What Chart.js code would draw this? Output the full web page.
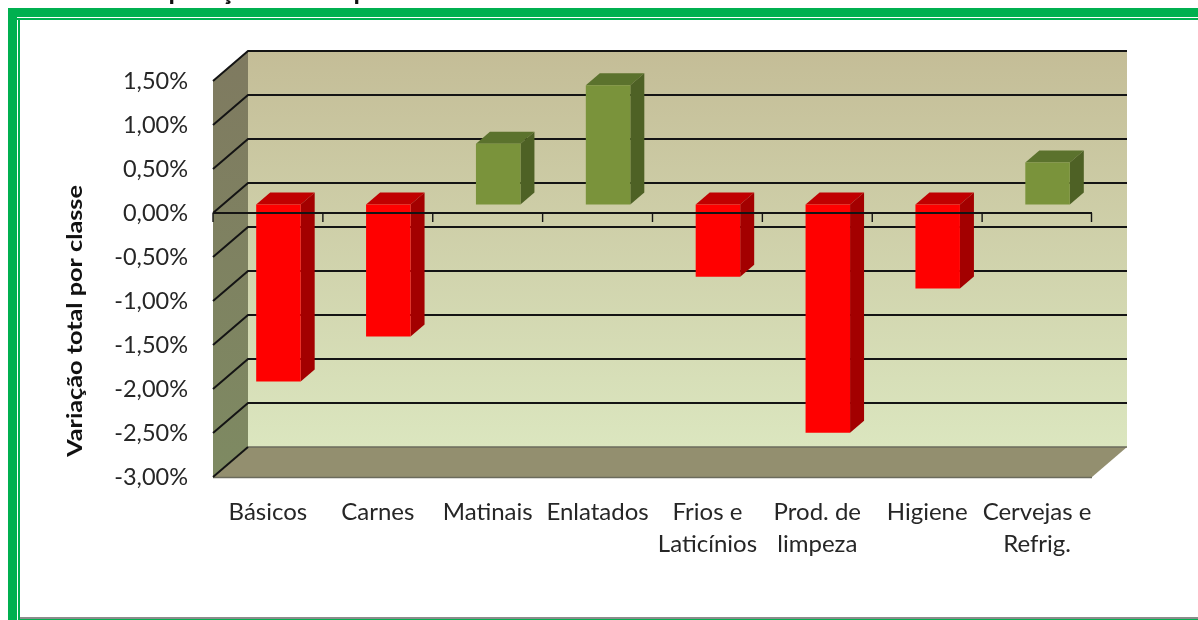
<!DOCTYPE html>
<html lang="pt-BR">
<head>
<meta charset="utf-8">
<style>html,body{margin:0;padding:0;background:#fff}canvas{display:block}</style>
<script src="https://cdn.jsdelivr.net/npm/chart.js@4/dist/chart.umd.min.js"></script>
</head>
<body>
<canvas id="c" width="1198" height="620"></canvas>
<script>
const categories = ["Básicos","Carnes","Matinais","Enlatados",["Frios e","Laticínios"],["Prod. de","limpeza"],"Higiene",["Cervejas e","Refrig."]];
const variacao = [-2.01,-1.50,0.69,1.355,-0.82,-2.595,-0.955,0.477];
const yAxisTitle = "Variação total por classe";
const clippedTitleLetters = [["p",176],["ç",227],["p",361]];

const FONT = "Lato, Carlito, sans-serif";
const INK = "#262626";
const WALL = {dx:35, dy:-30};
const BAR_PLANE = {dx:10.5, dy:-8.5};
const BAR_DEPTH = {dx:14, dy:-12};
const poly = (ctx, pts, fill) => {
  ctx.beginPath();
  pts.forEach((p,i)=> i ? ctx.lineTo(p[0],p[1]) : ctx.moveTo(p[0],p[1]));
  ctx.closePath(); ctx.fillStyle = fill; ctx.fill();
};

const frame = {
  id:"frame",
  beforeDraw(chart){
    const {ctx,width:W,height:H} = chart;
    ctx.save();
    ctx.fillStyle="#fff"; ctx.fillRect(0,0,W,H);
    ctx.fillStyle="#00B050";
    ctx.fillRect(8,8,W-8,9); ctx.fillRect(8,18,W-8,2);
    ctx.fillRect(8,8,9,H-8); ctx.fillRect(18,18,2,H-18);
    ctx.fillStyle="#8c8c8c"; ctx.fillRect(20,617,W-20,2);
    ctx.fillStyle="#00B050"; ctx.fillRect(20,619,W-20,1);
    ctx.fillStyle="#111"; ctx.font="bold 26px "+FONT; ctx.textAlign="center"; ctx.textBaseline="alphabetic";
    clippedTitleLetters.forEach(([t,x])=>ctx.fillText(t,x,0));
    ctx.restore();
  }
};

const stage = {
  id:"stage",
  beforeDatasetsDraw(chart){
    const {ctx,chartArea:a,scales:{y}} = chart;
    const {left:L,right:R,top:T,bottom:B} = a;
    const d=WALL, BL=L+d.dx, BR=R+d.dx, BT=T+d.dy, BB=B+d.dy;
    ctx.save();
    let g=ctx.createLinearGradient(0,BT,0,BB);
    g.addColorStop(0,"#C4BD97"); g.addColorStop(1,"#DBE6BF");
    ctx.fillStyle=g; ctx.fillRect(BL,BT,BR-BL,BB-BT);
    g=ctx.createLinearGradient(0,BT,0,B);
    g.addColorStop(0,"#7F7A60"); g.addColorStop(1,"#7E8A62");
    poly(ctx,[[L,T],[BL,BT],[BL,BB],[L,B]],g);
    poly(ctx,[[L,B],[BL,BB],[BR,BB],[R,B]],"#938F6F");
    ctx.strokeStyle="#6b6b5c"; ctx.lineWidth=1.5;
    ctx.beginPath(); ctx.moveTo(BL,BB); ctx.lineTo(BR,BB); ctx.stroke();
    ctx.beginPath(); ctx.moveTo(L,B+.5); ctx.lineTo(R,B+.5); ctx.stroke();
    ctx.strokeStyle="#141414"; ctx.lineWidth=2;
    y.ticks.forEach(t=>{
      const py=Math.round(y.getPixelForValue(t.value));
      ctx.beginPath(); ctx.moveTo(L,py); ctx.lineTo(BL,py+d.dy);
      if(t.value>y.min) ctx.lineTo(BR,py+d.dy);
      ctx.stroke();
    });
    ctx.restore();
    ctx.save();
    const meta=chart.getDatasetMeta(0);
    ctx.translate(BAR_PLANE.dx,BAR_PLANE.dy);
    const D=BAR_DEPTH;
    meta.data.forEach((el,i)=>{
      const top=Math.min(el.y,el.base), bot=Math.max(el.y,el.base);
      const l=el.x-el.width/2, r=el.x+el.width/2;
      const pos=variacao[i]>=0;
      poly(ctx,[[l,top],[l+D.dx,top+D.dy],[r+D.dx,top+D.dy],[r,top]],pos?"#5B722D":"#C00000");
      poly(ctx,[[r,top],[r+D.dx,top+D.dy],[r+D.dx,bot+D.dy],[r,bot]],pos?"#4E6125":"#A30000");
    });
    ctx.restore();
    ctx.save();
    ctx.translate(BAR_PLANE.dx,BAR_PLANE.dy);
  },
  afterDatasetsDraw(chart){
    const {ctx,chartArea:a,scales:{x,y}} = chart;
    ctx.restore();
    ctx.save();
    const y0=Math.round(y.getPixelForValue(0));
    ctx.strokeStyle="#141414"; ctx.lineWidth=2;
    ctx.beginPath(); ctx.moveTo(a.left,y0); ctx.lineTo(a.right,y0); ctx.stroke();
    const half=(x.getPixelForTick(1)-x.getPixelForTick(0))/2;
    ctx.lineWidth=1.4;
    x.ticks.forEach((t,i)=>{
      const px=x.getPixelForTick(i)-half;
      ctx.beginPath(); ctx.moveTo(px,y0); ctx.lineTo(px,y0+9); ctx.stroke();
    });
    ctx.beginPath(); ctx.moveTo(a.right-.5,y0); ctx.lineTo(a.right-.5,y0+9); ctx.stroke();
    ctx.fillStyle="#111"; ctx.font="bold 21px "+FONT;
    ctx.textAlign="center"; ctx.textBaseline="middle";
    ctx.translate(75,321); ctx.rotate(-Math.PI/2); ctx.scale(1.2,1);
    ctx.fillText(yAxisTitle,0,0);
    ctx.restore();
  }
};

new Chart(document.getElementById("c"),{
  type:"bar",
  data:{labels:categories,datasets:[{
    label:yAxisTitle,
    data:variacao,
    backgroundColor:variacao.map(v=>v>=0?"#7A933B":"#FF0000"),
    categoryPercentage:1,
    barPercentage:0.405,
    borderWidth:0
  }]},
  plugins:[frame,stage],
  options:{
    responsive:false,
    animation:false,
    layout:{padding:{left:0,top:81,right:106,bottom:0}},
    plugins:{legend:{display:false},tooltip:{enabled:false},title:{display:false}},
    scales:{
      x:{
        grid:{display:false},border:{display:false},
        afterFit(s){s.height=143;},
        ticks:{color:INK,font:{family:FONT,size:24,lineHeight:1.33},padding:11,maxRotation:0,minRotation:0,autoSkip:false}
      },
      y:{
        min:-3,max:1.5,
        grid:{display:false},border:{display:false},
        afterFit(s){s.width=213;},
        ticks:{stepSize:0.5,color:INK,padding:17,font:{family:FONT,size:23.5},
          callback:v=>v.toFixed(2).replace(".",",")+"%"}
      }
    }
  }
});
</script>
</body>
</html>
